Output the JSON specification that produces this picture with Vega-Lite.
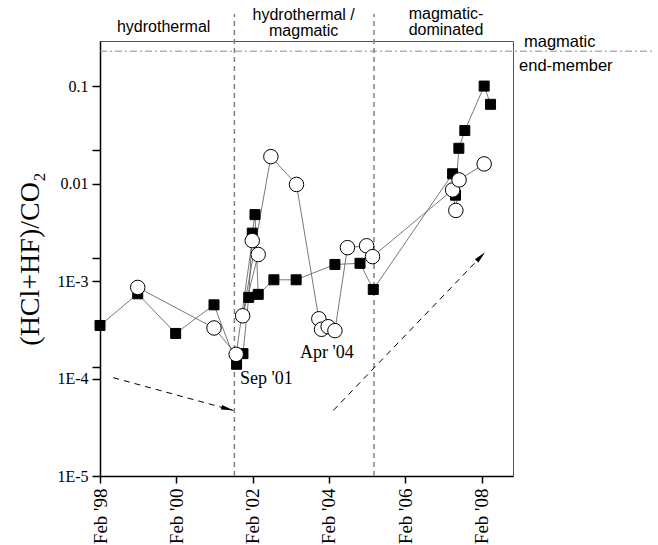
{
  "$schema": "https://vega.github.io/schema/vega-lite/v6.json",
  "width": 413,
  "height": 435,
  "autosize": {"type": "none"},
  "padding": {"left": 100, "top": 41, "right": 145, "bottom": 69},
  "background": "white",
  "config": {"view": {"stroke": "#555", "strokeWidth": 1}},
  "datasets": {
    "samples": [
      {"date": "1998-02-01", "ratio": 0.00035, "series": "A", "seq": 1},
      {"date": "1999-01-28", "ratio": 0.00074, "series": "A", "seq": 2},
      {"date": "2000-01-26", "ratio": 0.00029, "series": "A", "seq": 3},
      {"date": "2001-01-27", "ratio": 0.00057, "series": "A", "seq": 4},
      {"date": "2001-08-31", "ratio": 0.00014, "series": "A", "seq": 5},
      {"date": "2001-10-31", "ratio": 0.00018, "series": "A", "seq": 6},
      {"date": "2001-12-25", "ratio": 0.00068, "series": "A", "seq": 7},
      {"date": "2002-01-28", "ratio": 0.0031, "series": "A", "seq": 8},
      {"date": "2002-02-23", "ratio": 0.0048, "series": "A", "seq": 9},
      {"date": "2002-03-26", "ratio": 0.00073, "series": "A", "seq": 10},
      {"date": "2002-08-23", "ratio": 0.00103, "series": "A", "seq": 11},
      {"date": "2003-03-24", "ratio": 0.00103, "series": "A", "seq": 12},
      {"date": "2004-03-29", "ratio": 0.00148, "series": "A", "seq": 13},
      {"date": "2004-11-24", "ratio": 0.00152, "series": "A", "seq": 14},
      {"date": "2005-03-31", "ratio": 0.00082, "series": "A", "seq": 15},
      {"date": "2007-04-29", "ratio": 0.0126, "series": "A", "seq": 16},
      {"date": "2007-05-27", "ratio": 0.0076, "series": "A", "seq": 17},
      {"date": "2007-06-28", "ratio": 0.023, "series": "A", "seq": 18},
      {"date": "2007-08-24", "ratio": 0.035, "series": "A", "seq": 19},
      {"date": "2008-02-25", "ratio": 0.1, "series": "A", "seq": 20},
      {"date": "2008-04-26", "ratio": 0.065, "series": "A", "seq": 21},
      {"date": "1999-01-28", "ratio": 0.00086, "series": "B", "seq": 1},
      {"date": "2001-01-27", "ratio": 0.00033, "series": "B", "seq": 2},
      {"date": "2001-08-27", "ratio": 0.000177, "series": "B", "seq": 3},
      {"date": "2001-10-28", "ratio": 0.00044, "series": "B", "seq": 6},
      {"date": "2002-01-28", "ratio": 0.0026, "series": "B", "seq": 4},
      {"date": "2002-03-26", "ratio": 0.00187, "series": "B", "seq": 5},
      {"date": "2002-07-25", "ratio": 0.0189, "series": "B", "seq": 7},
      {"date": "2003-03-27", "ratio": 0.0098, "series": "B", "seq": 8},
      {"date": "2003-10-27", "ratio": 0.00041, "series": "B", "seq": 9},
      {"date": "2003-11-22", "ratio": 0.00032, "series": "B", "seq": 10},
      {"date": "2004-01-24", "ratio": 0.00034, "series": "B", "seq": 11},
      {"date": "2004-03-29", "ratio": 0.00031, "series": "B", "seq": 12},
      {"date": "2004-07-27", "ratio": 0.0022, "series": "B", "seq": 13},
      {"date": "2005-01-26", "ratio": 0.0023, "series": "B", "seq": 14},
      {"date": "2005-03-24", "ratio": 0.00178, "series": "B", "seq": 15},
      {"date": "2007-04-29", "ratio": 0.0086, "series": "B", "seq": 16},
      {"date": "2007-05-30", "ratio": 0.0053, "series": "B", "seq": 17},
      {"date": "2007-06-30", "ratio": 0.0109, "series": "B", "seq": 18},
      {"date": "2008-02-25", "ratio": 0.0159, "series": "B", "seq": 19}
    ],
    "phaseBoundaries": [
      {"date": "2001-08-10", "low": 0.00001, "high": 0.55},
      {"date": "2005-04-07", "low": 0.00001, "high": 0.55}
    ],
    "endMember": [
      {"start": "1998-02-01", "end": "2012-07-28", "ratio": 0.228}
    ],
    "trends": [
      {"trend": "waning", "date": "1998-06-08", "ratio": 0.000102},
      {"trend": "waning", "date": "2001-07-30", "ratio": 0.000047},
      {"trend": "waxing", "date": "2004-03-13", "ratio": 0.000047},
      {"trend": "waxing", "date": "2008-03-04", "ratio": 0.00197}
    ],
    "arrowHeads": [
      {"trend": "waning", "date": "2001-06-03", "ratio": 0.0000489},
      {"trend": "waxing", "date": "2008-01-24", "ratio": 0.00178}
    ],
    "phaseLabels": [
      {"date": "1999-10-03", "ratio": 0.357, "label": "hydrothermal"},
      {"date": "2003-06-04", "ratio": 0.48, "label": "hydrothermal /"},
      {"date": "2003-06-04", "ratio": 0.33, "label": "magmatic"},
      {"date": "2007-02-25", "ratio": 0.49, "label": "magmatic-"},
      {"date": "2007-02-25", "ratio": 0.337, "label": "dominated"}
    ],
    "endMemberLabels": [
      {"date": "2009-03-12", "ratio": 0.253, "label": "magmatic"},
      {"date": "2009-01-24", "ratio": 0.1425, "label": "end-member"}
    ],
    "eventLabels": [
      {"date": "2001-10-03", "ratio": 0.000087, "label": "Sep '01"},
      {"date": "2003-04-30", "ratio": 0.000163, "label": "Apr '04"}
    ]
  },
  "encoding": {
    "x": {
      "field": "date",
      "type": "temporal",
      "scale": {
        "type": "utc",
        "domain": [
          {"year": 1998, "month": 2, "date": 1, "utc": true},
          {"year": 2008, "month": 11, "date": 27, "utc": true}
        ]
      },
      "axis": {
        "title": null,
        "grid": false,
        "values": [
          {"year": 1998, "month": 2, "date": 1, "utc": true},
          {"year": 2000, "month": 2, "date": 1, "utc": true},
          {"year": 2002, "month": 2, "date": 1, "utc": true},
          {"year": 2004, "month": 2, "date": 1, "utc": true},
          {"year": 2006, "month": 2, "date": 1, "utc": true},
          {"year": 2008, "month": 2, "date": 1, "utc": true}
        ],
        "labelExpr": "'Feb \\'' + utcFormat(datum.value, '%y')",
        "labelAngle": -90,
        "labelFont": "Liberation Serif",
        "labelFontSize": 19,
        "labelColor": "black",
        "labelPadding": 5,
        "labelFlush": false,
        "labelOverlap": false,
        "tickColor": "black",
        "tickWidth": 1.5,
        "tickSize": 7,
        "domainColor": "black",
        "domainWidth": 1.5
      }
    },
    "y": {
      "field": "ratio",
      "type": "quantitative",
      "scale": {"type": "log", "domain": [0.00001, 0.29], "nice": false},
      "axis": {
        "title": "(HCl+HF)/CO₂",
        "titleFont": "Liberation Serif",
        "titleFontSize": 28,
        "titleFontWeight": "normal",
        "titleColor": "black",
        "titleAngle": -90,
        "titleAlign": "center",
        "titleBaseline": "alphabetic",
        "titleX": -62,
        "titleY": 217.5,
        "grid": false,
        "values": [0.00001, 0.0001, 0.0001305, 0.001, 0.001703, 0.01, 0.02223, 0.1],
        "labelExpr": "abs(log(datum.value) / LN10 - round(log(datum.value) / LN10)) > 0.01 ? '' : (datum.value >= 0.05 ? '0.1' : (datum.value >= 0.005 ? '0.01' : '1E' + round(log(datum.value) / LN10)))",
        "labelFont": "Liberation Serif",
        "labelFontSize": 16,
        "labelColor": "black",
        "labelPadding": 4,
        "labelFlush": false,
        "labelOverlap": false,
        "tickColor": "black",
        "tickWidth": 1.5,
        "tickSize": 8,
        "domainColor": "black",
        "domainWidth": 1.5
      }
    }
  },
  "layer": [
    {
      "data": {"name": "phaseBoundaries"},
      "mark": {"type": "rule", "color": "#808080", "strokeWidth": 1.5, "strokeDash": [5, 4]},
      "encoding": {
        "y": {"field": "low", "type": "quantitative"},
        "y2": {"field": "high"}
      }
    },
    {
      "data": {"name": "endMember"},
      "mark": {"type": "rule", "color": "#8a8a8a", "strokeWidth": 1, "strokeDash": [7, 3, 2, 3]},
      "encoding": {
        "x": {"field": "start", "type": "temporal"},
        "x2": {"field": "end"}
      }
    },
    {
      "data": {"name": "trends"},
      "mark": {"type": "line", "color": "black", "strokeWidth": 1, "strokeDash": [6, 5]},
      "encoding": {"detail": {"field": "trend"}}
    },
    {
      "data": {"name": "arrowHeads"},
      "transform": [{"filter": "datum.trend == 'waning'"}],
      "mark": {"type": "point", "shape": "M -1 -0.4 L 1 0 L -1 0.4 Z", "size": 144, "filled": true, "color": "black", "opacity": 1, "angle": 15}
    },
    {
      "data": {"name": "arrowHeads"},
      "transform": [{"filter": "datum.trend == 'waxing'"}],
      "mark": {"type": "point", "shape": "M -1 -0.4 L 1 0 L -1 0.4 Z", "size": 144, "filled": true, "color": "black", "opacity": 1, "angle": 314}
    },
    {
      "data": {"name": "samples"},
      "mark": {"type": "line", "color": "#555", "strokeWidth": 0.8},
      "encoding": {
        "detail": {"field": "series"},
        "order": {"field": "seq", "type": "quantitative"}
      }
    },
    {
      "data": {"name": "samples"},
      "mark": {"type": "point", "opacity": 1, "strokeWidth": 1, "stroke": "black"},
      "encoding": {
        "shape": {"field": "series", "type": "nominal", "scale": {"domain": ["A", "B"], "range": ["square", "circle"]}, "legend": null},
        "fill": {"field": "series", "type": "nominal", "scale": {"domain": ["A", "B"], "range": ["black", "white"]}, "legend": null},
        "size": {"field": "series", "type": "nominal", "scale": {"domain": ["A", "B"], "range": [100, 210]}, "legend": null}
      }
    },
    {
      "data": {"name": "phaseLabels"},
      "mark": {"type": "text", "font": "Liberation Sans", "fontSize": 16, "align": "center", "baseline": "alphabetic", "color": "black"},
      "encoding": {"text": {"field": "label"}}
    },
    {
      "data": {"name": "endMemberLabels"},
      "mark": {"type": "text", "font": "Liberation Sans", "fontSize": 16.5, "align": "left", "baseline": "alphabetic", "color": "black"},
      "encoding": {"text": {"field": "label"}}
    },
    {
      "data": {"name": "eventLabels"},
      "mark": {"type": "text", "font": "Liberation Serif", "fontSize": 18, "align": "left", "baseline": "alphabetic", "color": "black"},
      "encoding": {"text": {"field": "label"}}
    }
  ]
}
